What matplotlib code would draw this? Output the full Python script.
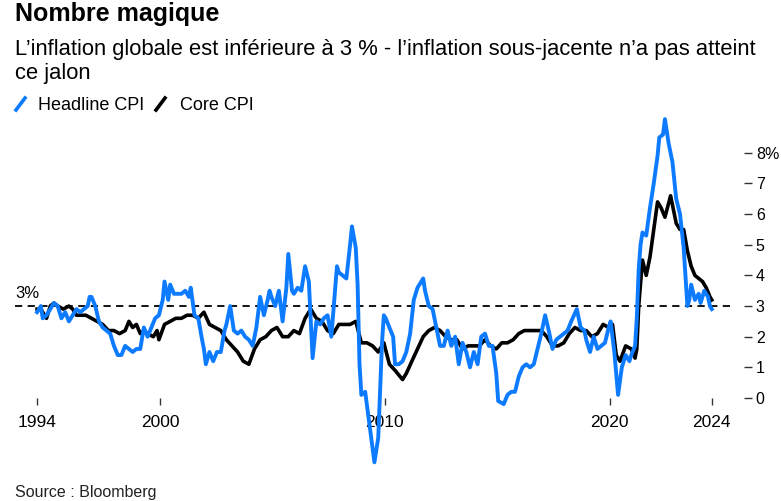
import matplotlib.pyplot as plt
from matplotlib.lines import Line2D
import pandas as pd

plt.rcParams['font.family'] = ['Liberation Sans', 'DejaVu Sans']

BLUE = '#0d7bff'

# US CPI, year over year (%)
headline_dates = [
    '1994-07', '1994-09', '1994-10', '1994-12',
    '1995-02', '1995-04', '1995-06', '1995-08', '1995-10', '1995-12',
    '1996-02', '1996-04', '1996-06', '1996-08', '1996-10', '1996-11', '1996-12',
    '1997-02', '1997-04', '1997-06', '1997-08', '1997-10', '1997-12',
    '1998-02', '1998-04', '1998-06', '1998-08', '1998-10', '1998-12',
    '1999-02', '1999-04', '1999-06', '1999-08', '1999-10', '1999-12',
    '2000-02', '2000-03', '2000-05', '2000-06', '2000-08', '2000-10', '2000-12',
    '2001-02', '2001-04', '2001-05', '2001-07', '2001-09', '2001-11', '2001-12',
    '2002-01', '2002-03', '2002-05', '2002-07', '2002-09', '2002-11', '2002-12',
    '2003-02', '2003-04', '2003-06', '2003-08', '2003-10', '2003-12',
    '2004-02', '2004-04', '2004-06', '2004-08', '2004-10', '2004-11', '2004-12',
    '2005-02', '2005-04', '2005-06', '2005-08', '2005-09', '2005-11', '2005-12',
    '2006-02', '2006-04', '2006-06', '2006-08', '2006-10', '2006-12',
    '2007-02', '2007-04', '2007-06', '2007-08', '2007-10', '2007-11', '2007-12',
    '2008-02', '2008-04', '2008-06', '2008-07', '2008-09', '2008-10', '2008-11', '2008-12',
    '2009-02', '2009-04', '2009-07', '2009-09', '2009-11', '2009-12',
    '2010-01', '2010-03', '2010-05', '2010-06', '2010-08', '2010-10', '2010-12',
    '2011-02', '2011-04', '2011-06', '2011-09', '2011-10', '2011-12',
    '2012-02', '2012-04', '2012-06', '2012-08', '2012-10', '2012-12',
    '2013-02', '2013-04', '2013-06', '2013-08', '2013-10', '2013-12',
    '2014-02', '2014-04', '2014-06', '2014-08', '2014-10', '2014-12',
    '2015-01', '2015-04', '2015-06', '2015-08', '2015-10', '2015-12',
    '2016-02', '2016-04', '2016-06', '2016-08', '2016-10', '2016-12',
    '2017-02', '2017-04', '2017-06', '2017-08', '2017-10', '2017-12',
    '2018-02', '2018-04', '2018-07', '2018-09', '2018-11', '2018-12',
    '2019-02', '2019-04', '2019-06', '2019-08', '2019-10', '2019-12',
    '2020-01', '2020-03', '2020-05', '2020-07', '2020-09', '2020-11', '2020-12',
    '2021-02', '2021-03', '2021-04', '2021-05', '2021-06', '2021-08', '2021-10', '2021-12',
    '2022-02', '2022-03', '2022-05', '2022-06', '2022-08', '2022-10', '2022-12',
    '2023-02', '2023-04', '2023-06', '2023-07', '2023-08', '2023-10', '2023-12',
    '2024-01', '2024-03', '2024-05', '2024-06', '2024-07',
]
headline = [
    2.8, 3.0, 2.6, 2.7,
    2.9, 3.1, 3.0, 2.6, 2.8, 2.5,
    2.7, 2.9, 2.8, 2.9, 3.0, 3.3, 3.3,
    3.0, 2.5, 2.3, 2.2, 2.1, 1.7,
    1.4, 1.4, 1.7, 1.6, 1.5, 1.6,
    1.6, 2.3, 2.0, 2.3, 2.6, 2.7,
    3.2, 3.8, 3.2, 3.7, 3.4, 3.4, 3.4,
    3.5, 3.3, 3.6, 2.7, 2.6, 1.9, 1.6,
    1.1, 1.5, 1.2, 1.5, 1.5, 2.2, 2.4,
    3.0, 2.2, 2.1, 2.2, 2.0, 1.9,
    1.7, 2.3, 3.3, 2.7, 3.2, 3.5, 3.3,
    3.0, 3.5, 2.5, 3.6, 4.7, 3.5, 3.4,
    3.6, 3.5, 4.3, 3.8, 1.3, 2.5,
    2.4, 2.6, 2.7, 2.0, 3.5, 4.3, 4.1,
    4.0, 3.9, 5.0, 5.6, 4.9, 3.7, 1.1, 0.1,
    0.2, -0.7, -2.1, -1.3, 1.8, 2.7,
    2.6, 2.3, 2.0, 1.1, 1.1, 1.2, 1.5,
    2.1, 3.2, 3.6, 3.9, 3.5, 3.0,
    2.9, 2.3, 1.7, 1.7, 2.2, 1.7,
    2.0, 1.1, 1.8, 1.5, 1.0, 1.5,
    1.1, 2.0, 2.1, 1.7, 1.7, 0.8,
    -0.1, -0.2, 0.1, 0.2, 0.2, 0.7,
    1.0, 1.1, 1.0, 1.1, 1.6, 2.1,
    2.7, 2.2, 1.6, 1.9, 2.0, 2.1,
    2.2, 2.5, 2.9, 2.3, 2.2, 1.9,
    1.5, 2.0, 1.6, 1.7, 1.8, 2.3,
    2.5, 1.5, 0.1, 1.0, 1.4, 1.2, 1.4,
    1.7, 2.6, 4.2, 5.0, 5.4, 5.3, 6.2, 7.0,
    7.9, 8.5, 8.6, 9.1, 8.3, 7.7, 6.5,
    6.0, 4.9, 3.0, 3.2, 3.7, 3.2, 3.4,
    3.1, 3.5, 3.3, 3.0, 2.9,
]

core_dates = [
    '1994-07', '1994-09', '1994-12',
    '1995-02', '1995-04', '1995-06', '1995-09', '1995-12',
    '1996-02', '1996-04', '1996-06', '1996-09', '1996-12',
    '1997-03', '1997-06', '1997-09', '1997-12',
    '1998-03', '1998-06', '1998-08', '1998-10', '1998-12',
    '1999-02', '1999-04', '1999-06', '1999-09', '1999-11', '1999-12',
    '2000-03', '2000-06', '2000-09', '2000-12',
    '2001-03', '2001-06', '2001-09', '2001-12',
    '2002-03', '2002-06', '2002-09', '2002-12',
    '2003-03', '2003-06', '2003-09', '2003-12',
    '2004-03', '2004-06', '2004-09', '2004-12',
    '2005-03', '2005-06', '2005-09', '2005-12',
    '2006-03', '2006-06', '2006-09', '2006-12',
    '2007-03', '2007-06', '2007-09', '2007-12',
    '2008-03', '2008-06', '2008-09', '2008-12',
    '2009-03', '2009-06', '2009-09', '2009-12',
    '2010-03', '2010-06', '2010-10', '2010-12',
    '2011-03', '2011-06', '2011-09', '2011-12',
    '2012-03', '2012-06', '2012-09', '2012-12',
    '2013-03', '2013-06', '2013-09', '2013-12',
    '2014-03', '2014-06', '2014-09', '2014-12',
    '2015-03', '2015-06', '2015-09', '2015-12',
    '2016-03', '2016-06', '2016-09', '2016-12',
    '2017-03', '2017-06', '2017-09', '2017-12',
    '2018-03', '2018-06', '2018-09', '2018-12',
    '2019-03', '2019-06', '2019-09', '2019-12',
    '2020-02', '2020-04', '2020-06', '2020-09', '2020-12',
    '2021-02', '2021-03', '2021-04', '2021-06', '2021-08', '2021-10', '2021-12',
    '2022-02', '2022-04', '2022-06', '2022-09', '2022-12',
    '2023-02', '2023-04', '2023-06', '2023-08', '2023-10', '2023-12',
    '2024-02', '2024-04', '2024-06', '2024-07',
]
core = [
    2.9, 2.9, 2.6,
    3.0, 3.1, 3.0, 2.9, 3.0,
    2.9, 2.7, 2.7, 2.7, 2.6,
    2.5, 2.4, 2.2, 2.2,
    2.1, 2.2, 2.5, 2.3, 2.4,
    2.1, 2.2, 2.1, 2.0, 2.2, 1.9,
    2.4, 2.5, 2.6, 2.6,
    2.7, 2.7, 2.6, 2.8,
    2.4, 2.3, 2.2, 1.9,
    1.7, 1.5, 1.2, 1.1,
    1.6, 1.9, 2.0, 2.2,
    2.3, 2.0, 2.0, 2.2,
    2.1, 2.6, 2.9, 2.6,
    2.5, 2.2, 2.1, 2.4,
    2.4, 2.4, 2.5, 1.8,
    1.8, 1.7, 1.5, 1.8,
    1.1, 0.9, 0.6, 0.8,
    1.2, 1.6, 2.0, 2.2,
    2.3, 2.2, 2.0, 1.9,
    1.9, 1.6, 1.7, 1.7,
    1.7, 1.9, 1.7, 1.6,
    1.8, 1.8, 1.9, 2.1,
    2.2, 2.2, 2.2, 2.2,
    2.0, 1.7, 1.7, 1.8,
    2.1, 2.3, 2.2, 2.2,
    2.0, 2.1, 2.4, 2.3,
    2.4, 1.4, 1.2, 1.7, 1.6,
    1.3, 1.6, 3.0, 4.5, 4.0, 4.6, 5.5,
    6.4, 6.2, 5.9, 6.6, 5.7,
    5.5, 5.5, 4.8, 4.3, 4.0, 3.9,
    3.8, 3.6, 3.3, 3.2,
]

tick_dates = ['1994-07-15', '2000-01-01', '2010-01-01', '2020-01-01', '2024-07-15']
tick_labels = ['1994', '2000', '2010', '2020', '2024']
y_ticks = [0, 1, 2, 3, 4, 5, 6, 7, 8]
y_labels = ['0', '1', '2', '3', '4', '5', '6', '7', '8%']
target = 3

hd = pd.to_datetime(headline_dates) + pd.Timedelta(days=14)
cd = pd.to_datetime(core_dates) + pd.Timedelta(days=14)

W, H = 781, 501
fig = plt.figure(figsize=(W / 100, H / 100), dpi=100)
ax = fig.add_axes([15 / W, 0.0589, (744 - 15) / W, 0.7216])

ax.plot(pd.to_datetime(['1993-07-22', '2025-06-01']), [target, target],
        color='black', lw=1.3, ls=(0, (4, 3)), zorder=1)
ax.plot(cd, core, color='black', lw=2.6, solid_joinstyle='round', zorder=2)
ax.plot(hd, headline, color=BLUE, lw=2.8, solid_joinstyle='round', zorder=3)

ax.set_xlim(pd.Timestamp('1993-07-22'), pd.Timestamp('2025-12-20'))
ax.set_ylim(-2.4, 9.4)

for s in ['top', 'left', 'right']:
    ax.spines[s].set_visible(False)
ax.spines['bottom'].set_position(('data', 0))
ax.spines['bottom'].set_color('none')

ax.set_xticks(pd.to_datetime(tick_dates))
ax.set_xticklabels(tick_labels)
ax.tick_params(axis='x', length=5, width=1, color='#333333', pad=7, labelsize=12.5)

ax.yaxis.tick_right()
ax.set_yticks(y_ticks)
ax.set_yticklabels(y_labels)
ax.tick_params(axis='y', length=5.5, width=1, color='#333333', pad=3, labelsize=11.5)

ax.text(0, target + 0.15, '3%', transform=ax.get_yaxis_transform(),
        fontsize=12, ha='left', va='bottom')

# header
fig.text(15 / W, 1 - 21 / H, 'Nombre magique', fontsize=18, fontweight='bold', va='baseline')
fig.text(15 / W, 1 - 55 / H,
         "L\u2019inflation globale est inférieure à 3 % - l\u2019inflation sous-jacente n\u2019a pas atteint",
         fontsize=15.8, va='baseline')
fig.text(15 / W, 1 - 79 / H, 'ce jalon', fontsize=15.8, va='baseline')

# legend
fig.add_artist(Line2D([16 / W, 25 / W], [1 - 110 / H, 1 - 98 / H], color=BLUE, lw=2.6))
fig.text(38 / W, 1 - 110 / H, 'Headline CPI', fontsize=13, va='baseline')
fig.add_artist(Line2D([156 / W, 165 / W], [1 - 110 / H, 1 - 98 / H], color='black', lw=2.6))
fig.text(180 / W, 1 - 110 / H, 'Core CPI', fontsize=13, va='baseline')

fig.text(15 / W, 1 - 497 / H, 'Source : Bloomberg', fontsize=11.5, color='#222222', va='baseline')

fig.savefig('out.png', dpi=100)
